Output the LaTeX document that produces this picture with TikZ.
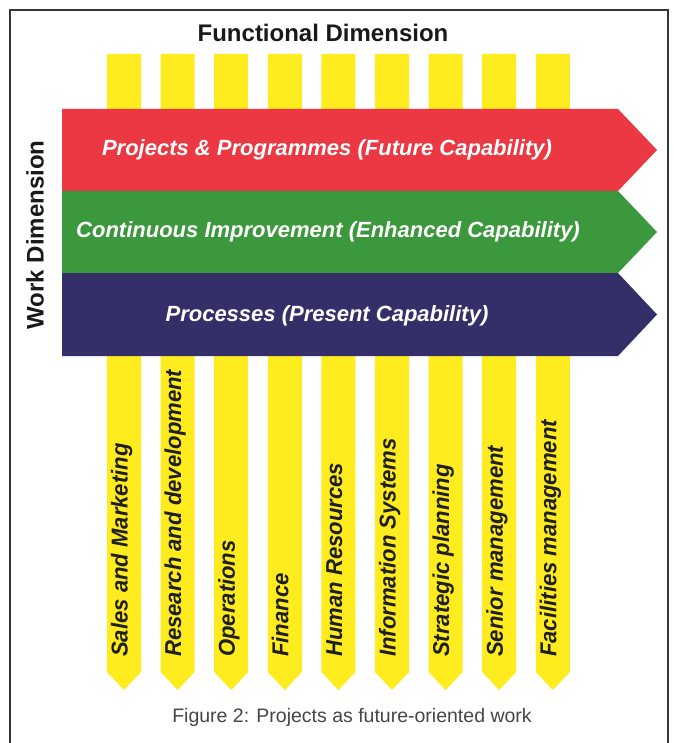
\documentclass[tikz,border=0pt]{standalone}
\usepackage{fontspec}
\setmainfont{Liberation Sans}
\definecolor{ylw}{RGB}{255,236,30}
\definecolor{redb}{RGB}{236,56,66}
\definecolor{greenb}{RGB}{60,152,60}
\definecolor{blueb}{RGB}{52,47,104}
\definecolor{framec}{RGB}{55,55,55}
\definecolor{capc}{RGB}{70,70,70}
\newcommand{\colsq}[1]{\scalebox{0.96}[1]{#1}}
\begin{document}
\begin{tikzpicture}[x=1pt,y=-1pt,
  title/.style={font=\fontsize{24}{28}\selectfont\bfseries, text=black!90, inner sep=0pt},
  bandtext/.style={font=\fontsize{22}{26}\selectfont\bfseries\itshape, text=white, inner sep=0pt},
  collabel/.style={font=\fontsize{23}{27}\selectfont\bfseries\itshape, text=black!88, rotate=90, anchor=mid west, inner sep=0pt},
  caption/.style={font=\fontsize{19.5}{24}\selectfont, text=capc, inner sep=0pt}]
\useasboundingbox (0,0) rectangle (673,743);
\fill[white] (0,0) rectangle (673,743);
\draw[framec, line width=1.8pt] (10,743) -- (10,10) -- (668,10) -- (668,743);
% columns
\foreach \i/\lab in {0/Sales and Marketing,1/Research and development,2/Operations,3/Finance,4/Human Resources,5/Information Systems,6/Strategic planning,7/Senior management,8/Facilities management}{
  \pgfmathsetmacro\cx{124+53.6*\i}
  \fill[ylw] (\cx-17,54) -- (\cx+17,54) -- (\cx+17,672) -- (\cx,690) -- (\cx-17,672) -- cycle;
  \node[collabel] (col\i) at (\cx+1,657) {\colsq{\lab}};
}
% bands
\fill[redb] (62,109) -- (618,109) -- (657,150) -- (618,191) -- (62,191) -- cycle;
\fill[greenb] (62,191) -- (618,191) -- (657,232) -- (618,273) -- (62,273) -- cycle;
\fill[blueb] (62,273) -- (618,273) -- (657,314.5) -- (618,356) -- (62,356) -- cycle;
\node[bandtext] (proj) at (327,150) {Projects \& Programmes (Future Capability)};
\node[bandtext] (cont) at (328,232) {Continuous Improvement (Enhanced Capability)};
\node[bandtext] (proc) at (327,316) {Processes (Present Capability)};
% titles
\node[title] (func) at (323,33) {Functional Dimension};
\node[title, rotate=90] (work) at (35,235) {Work Dimension};
\node[caption] (cap) at (352,717) {Figure 2: Projects as future-oriented work};
\end{tikzpicture}
\end{document}
